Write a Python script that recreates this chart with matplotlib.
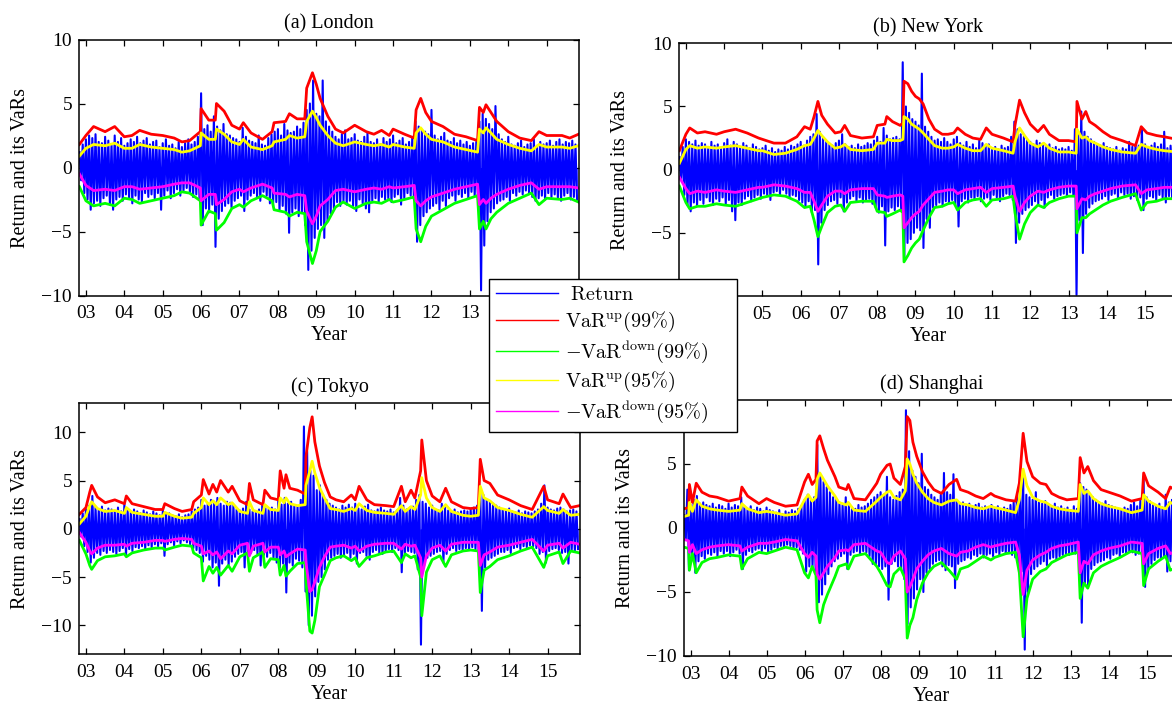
import numpy as np
import matplotlib
matplotlib.use("Agg")
import matplotlib.pyplot as plt
from matplotlib.lines import Line2D
from matplotlib.patches import Rectangle

BLUE, RED, GREEN, YELLOW, MAGENTA = "#0000FF", "#FF0000", "#00FF00", "#FFFF00", "#FF00FF"
plt.rcParams.update({"font.family": "Liberation Serif", "mathtext.fontset": "cm",
                     "font.size": 14, "axes.linewidth": 1.1, "path.simplify": False})

# monthly return extremes, Nov 2002 .. Oct 2015 (one row = Nov..Oct)
a_ret_hi = [1.2, 1.8, 2.2, 2.5, 2.3, 2.6, 2.0, 1.9, 2.4, 2.1, 1.8, 2.5,
            2.0, 2.3, 1.7, 1.9, 2.2, 2.0, 2.4, 1.9, 2.1, 2.3, 1.8, 2.0,
            2.1, 1.6, 1.9, 2.2, 1.7, 1.8, 1.5, 2.0, 1.6, 1.9, 2.2, 1.8,
            2.0, 2.4, 5.8, 3.0, 3.3, 2.8, 4.0, 3.2, 2.9, 3.4, 2.6, 2.5,
            2.3, 2.2, 2.0, 3.1, 2.4, 2.1, 2.0, 1.9, 2.5, 1.8, 1.7, 2.3,
            2.6, 2.8, 3.0, 2.5, 3.4, 2.9, 2.7, 2.8, 3.2, 3.0, 3.5, 4.5,
            5.0, 6.8, 4.2, 4.0, 6.8, 3.6, 3.2, 2.8, 2.4, 2.2, 2.6, 2.9,
            2.2, 2.3, 2.6, 2.1, 2.0, 2.4, 2.7, 2.0, 1.9, 2.2, 1.8, 2.3,
            2.0, 2.2, 2.5, 1.9, 2.1, 2.3, 1.8, 2.0, 2.4, 3.6, 3.2, 2.9,
            2.8, 2.6, 4.5, 2.5, 2.2, 2.4, 2.7, 2.1, 2.0, 2.3, 1.9, 2.1,
            1.8, 2.0, 1.7, 1.9, 2.0, 3.6, 4.2, 3.8, 3.4, 3.0, 4.8, 2.6,
            2.2, 2.0, 2.4, 1.8, 1.7, 1.9, 2.1, 1.6, 1.8, 1.9, 2.2, 1.7,
            2.0, 1.8, 1.9, 2.1, 1.7, 2.0, 2.2, 1.8, 2.0, 1.9, 2.1, 1.8]
a_ret_lo = [-1.0, -2.0, -2.5, -3.3, -2.8, -2.6, -3.0, -2.4, -2.2, -2.9, -3.3, -2.5,
            -2.3, -2.6, -2.1, -2.4, -2.8, -2.2, -2.5, -2.7, -2.0, -2.3, -2.1, -2.4,
            -2.0, -3.3, -2.2, -1.8, -2.4, -2.0, -1.7, -2.2, -1.8, -1.6, -2.0, -2.3,
            -2.1, -2.5, -4.5, -3.2, -3.5, -2.9, -6.2, -4.0, -3.4, -3.0, -2.8, -3.1,
            -2.6, -2.4, -2.2, -3.4, -2.5, -2.2, -2.0, -2.3, -2.6, -1.9, -2.2, -2.8,
            -3.0, -2.7, -3.4, -3.0, -3.6, -5.1, -3.5, -3.2, -3.8, -3.5, -4.5, -8.0,
            -6.5, -5.5, -4.8, -4.5, -5.5, -4.2, -3.6, -3.2, -2.7, -3.0, -2.6, -2.9,
            -2.6, -3.0, -3.4, -2.5, -2.8, -3.2, -3.5, -2.6, -2.4, -2.7, -2.3, -2.5,
            -2.4, -2.7, -2.3, -2.1, -2.9, -2.4, -2.0, -2.2, -2.5, -5.8, -4.5, -3.8,
            -3.5, -3.2, -3.0, -2.8, -3.3, -2.6, -3.0, -2.4, -2.2, -2.6, -2.1, -2.3,
            -2.0, -2.4, -1.9, -2.2, -2.5, -9.6, -6.1, -4.2, -3.5, -3.2, -2.8, -2.6,
            -2.5, -2.3, -2.6, -2.0, -2.2, -1.9, -2.1, -1.8, -2.0, -2.3, -2.6, -2.4,
            -2.2, -2.5, -2.0, -2.3, -2.1, -2.4, -2.6, -2.2, -2.0, -2.5, -2.3, -2.6]

b_ret_hi = [1.0, 1.8, 2.4, 2.2, 2.0, 2.3, 1.9, 2.1, 2.0, 1.8, 2.2, 1.9,
            2.0, 1.7, 2.1, 2.4, 1.9, 2.2, 2.0, 1.8, 2.1, 1.9, 1.7, 2.0,
            1.8, 1.6, 1.7, 1.9, 1.5, 1.7, 1.4, 1.6, 1.5, 1.8, 1.6, 1.9,
            1.8, 2.0, 2.2, 1.9, 2.3, 2.6, 2.8, 4.4, 3.0, 2.5, 2.2, 2.0,
            1.9, 2.1, 2.3, 2.8, 2.0, 1.8, 1.9, 1.7, 2.0, 1.8, 1.9, 2.1,
            2.0, 2.3, 2.6, 2.2, 3.3, 2.7, 2.4, 2.5, 2.6, 2.4, 8.5, 5.0,
            4.5, 4.0, 3.8, 3.5, 7.6, 3.4, 3.0, 2.6, 2.3, 2.4, 2.2, 2.5,
            2.2, 2.0, 2.4, 2.6, 2.1, 1.9, 2.2, 1.8, 2.0, 1.7, 2.3, 2.1,
            1.9, 2.0, 1.7, 1.8, 1.6, 1.9, 1.7, 1.8, 2.6, 3.8, 3.2, 2.8,
            2.6, 2.4, 2.2, 2.0, 2.3, 2.1, 1.9, 1.8, 2.0, 1.7, 1.8, 1.6,
            1.7, 1.6, 1.8, 1.5, 3.2, 2.8, 4.6, 3.0, 2.6, 2.4, 2.2, 2.0,
            1.9, 2.1, 1.8, 1.7, 1.6, 1.8, 1.5, 1.7, 1.6, 2.2, 1.8, 2.0,
            1.9, 3.3, 2.0, 1.8, 1.9, 2.1, 1.8, 2.0, 3.0, 1.7, 1.9, 1.8]
b_ret_lo = [-0.8, -2.0, -2.8, -3.3, -2.6, -2.9, -2.4, -2.7, -2.2, -2.5, -2.8, -2.3,
            -2.5, -2.2, -2.7, -2.4, -3.3, -4.0, -2.6, -2.8, -2.3, -2.1, -2.5, -2.2,
            -2.0, -2.3, -1.9, -2.1, -2.4, -1.8, -1.7, -2.0, -1.6, -1.9, -2.2, -2.0,
            -2.1, -2.4, -2.6, -2.9, -2.5, -3.4, -3.2, -7.5, -4.2, -3.2, -2.8, -2.5,
            -2.4, -2.7, -2.2, -3.3, -2.6, -2.3, -2.1, -2.5, -2.2, -2.6, -2.4, -2.3,
            -2.7, -3.0, -3.4, -2.9, -6.0, -3.3, -3.0, -3.2, -2.9, -3.1, -7.0, -5.8,
            -5.5, -5.0, -4.6, -4.8, -6.2, -3.9, -4.6, -3.0, -2.8, -2.6, -2.9, -2.5,
            -2.6, -2.4, -2.8, -4.5, -2.5, -2.3, -2.6, -2.2, -2.4, -2.1, -2.5, -2.3,
            -2.2, -2.4, -2.0, -2.2, -2.5, -2.1, -1.9, -2.0, -2.4, -5.8, -4.2, -3.5,
            -3.2, -3.0, -2.8, -2.5, -2.7, -2.4, -3.0, -2.2, -2.0, -2.3, -2.1, -2.0,
            -1.9, -2.1, -1.8, -2.0, -9.9, -4.0, -6.6, -3.5, -3.0, -2.7, -2.5, -2.4,
            -2.3, -2.1, -2.4, -2.0, -1.9, -2.2, -1.8, -2.0, -1.9, -2.3, -2.1, -2.4,
            -2.2, -3.2, -2.3, -2.1, -2.2, -2.4, -2.0, -2.2, -2.6, -2.1, -2.3, -2.0]

c_ret_hi = [1.0, 1.6, 2.0, 2.4, 3.4, 2.2, 2.0, 2.3, 1.9, 2.1, 2.0, 1.8,
            2.2, 1.8, 2.6, 1.9, 1.7, 2.0, 1.8, 1.6, 1.9, 1.7, 1.5, 1.8,
            1.6, 1.4, 1.9, 1.5, 1.6, 1.4, 1.3, 1.5, 1.2, 1.4, 1.5, 1.8,
            2.0, 2.2, 3.0, 2.4, 2.6, 3.0, 2.8, 3.2, 2.6, 2.4, 2.8, 2.7,
            2.5, 2.0, 1.9, 2.1, 2.8, 2.0, 1.8, 1.7, 2.0, 2.6, 2.1, 2.0,
            2.2, 2.0, 3.0, 2.5, 3.2, 2.6, 2.8, 2.4, 2.3, 3.0, 10.6, 8.0,
            6.0, 5.5, 4.0, 4.5, 3.5, 3.0, 2.6, 2.4, 2.2, 2.0, 2.4, 2.2,
            2.5, 2.2, 2.6, 2.1, 2.0, 2.3, 2.5, 1.9, 1.8, 2.0, 2.2, 1.9,
            1.8, 2.0, 1.7, 1.9, 3.2, 2.4, 2.0, 2.2, 2.3, 3.0, 3.5, 2.8,
            2.6, 2.2, 2.4, 2.0, 1.9, 2.6, 2.2, 1.9, 1.8, 2.0, 1.7, 1.8,
            1.9, 1.8, 2.0, 2.2, 2.4, 4.0, 3.5, 3.0, 2.8, 2.6, 2.4, 2.2,
            2.0, 1.9, 2.1, 1.8, 1.7, 1.9, 1.6, 1.8, 1.7, 1.6, 1.8, 2.0,
            2.6, 4.5, 2.2, 2.0, 1.9, 2.1, 2.2, 2.0, 1.8, 1.9, 2.0, 1.8]
c_ret_lo = [-0.8, -1.8, -2.4, -3.5, -3.0, -2.5, -2.7, -2.3, -2.5, -2.2, -2.4, -2.6,
            -2.3, -2.0, -2.8, -2.1, -2.3, -1.9, -2.0, -1.8, -2.1, -1.7, -1.9, -1.6,
            -1.8, -1.5, -2.8, -1.6, -1.4, -1.7, -1.3, -1.5, -1.2, -1.4, -1.6, -2.0,
            -2.2, -2.5, -3.4, -2.8, -3.2, -4.0, -3.5, -5.9, -3.6, -3.2, -3.8, -3.4,
            -2.9, -2.6, -2.4, -4.0, -2.8, -2.5, -2.2, -2.6, -3.8, -2.7, -2.9, -2.5,
            -3.0, -3.5, -4.0, -3.6, -6.6, -3.5, -3.8, -3.1, -3.3, -4.0, -6.5, -10.0,
            -9.0, -7.0, -5.5, -5.0, -4.2, -3.2, -3.0, -2.8, -2.6, -3.0, -2.7, -2.5,
            -3.0, -2.6, -3.6, -2.5, -2.4, -2.8, -3.2, -2.4, -2.2, -2.5, -2.6, -2.3,
            -2.1, -2.4, -2.0, -2.2, -4.5, -2.6, -2.3, -2.4, -2.5, -4.2, -12.0, -3.8,
            -3.0, -2.8, -2.6, -2.4, -2.3, -3.5, -2.6, -2.2, -2.0, -2.3, -2.1, -2.2,
            -2.0, -2.2, -1.9, -2.1, -2.5, -8.5, -4.0, -3.2, -3.0, -2.8, -2.6, -2.4,
            -2.4, -2.2, -2.5, -2.0, -1.9, -2.1, -1.8, -1.9, -1.7, -1.8, -2.0, -2.6,
            -2.4, -3.5, -2.3, -2.1, -2.0, -2.2, -2.5, -2.4, -3.6, -2.2, -2.3, -2.1]

d_ret_hi = [1.0, 3.0, 1.8, 2.2, 2.5, 1.9, 2.0, 1.8, 1.7, 1.9, 1.6, 1.8,
            1.7, 1.5, 1.9, 1.6, 1.8, 1.7, 2.4, 1.6, 1.5, 1.7, 1.4, 1.6,
            1.5, 1.3, 1.6, 1.4, 1.3, 1.2, 1.4, 1.1, 1.3, 1.2, 1.4, 1.3,
            1.5, 1.7, 2.2, 2.6, 2.2, 2.4, 6.5, 4.0, 3.6, 3.2, 2.8, 2.4,
            2.2, 2.0, 1.8, 2.4, 1.7, 1.6, 1.5, 1.8, 1.6, 1.7, 1.9, 2.2,
            2.4, 2.6, 2.8, 2.6, 4.0, 2.4, 2.2, 2.5, 2.8, 3.0, 9.2, 6.0,
            4.5, 4.0, 3.5, 5.8, 3.2, 3.0, 2.6, 2.4, 2.2, 2.6, 4.3, 2.8,
            2.6, 4.2, 2.1, 1.9, 2.0, 1.8, 1.9, 1.7, 1.8, 1.9, 1.6, 1.7,
            1.6, 1.8, 1.5, 1.7, 1.4, 1.6, 1.5, 1.8, 2.0, 2.4, 3.2, 4.2,
            2.6, 2.4, 2.2, 2.8, 2.0, 1.9, 2.1, 1.8, 1.7, 1.9, 1.6, 1.7,
            1.5, 1.6, 1.4, 1.7, 1.5, 3.5, 3.2, 3.0, 2.6, 2.4, 2.2, 2.0,
            1.9, 2.1, 1.8, 1.7, 1.6, 1.5, 1.4, 1.6, 1.5, 1.8, 2.0, 1.7,
            2.2, 4.0, 2.4, 2.1, 1.8, 1.7, 1.9, 1.6, 2.6, 2.0, 2.2, 2.0]
d_ret_lo = [-0.9, -3.3, -2.0, -3.5, -2.6, -2.2, -2.4, -2.0, -2.1, -1.9, -2.2, -1.8,
            -2.0, -1.8, -2.2, -1.9, -1.7, -2.0, -3.2, -2.1, -1.8, -1.9, -1.7, -1.6,
            -1.8, -1.6, -1.9, -1.7, -1.5, -1.6, -1.4, -1.5, -1.3, -1.4, -1.6, -1.5,
            -1.7, -2.0, -3.4, -3.0, -3.0, -3.5, -5.8, -5.2, -4.4, -3.6, -3.0, -2.6,
            -2.4, -2.2, -2.0, -3.2, -2.1, -1.9, -1.8, -2.0, -1.8, -1.9, -2.2, -2.8,
            -2.9, -3.0, -3.2, -3.0, -5.6, -2.8, -2.6, -3.0, -3.2, -4.0, -7.5, -6.2,
            -5.5, -4.8, -4.0, -5.0, -3.5, -3.2, -2.8, -2.6, -2.5, -3.0, -3.3, -2.9,
            -3.0, -4.7, -2.8, -2.6, -2.5, -2.3, -2.4, -2.1, -2.2, -2.0, -2.3, -2.1,
            -2.0, -2.2, -1.9, -2.1, -1.8, -2.0, -1.9, -2.1, -2.3, -2.8, -3.4, -9.5,
            -5.0, -3.6, -3.2, -3.0, -2.8, -2.6, -2.9, -2.4, -2.3, -2.5, -2.2, -2.1,
            -2.0, -2.1, -1.9, -2.0, -1.8, -7.4, -4.3, -4.5, -3.2, -2.9, -2.7, -2.6,
            -2.5, -2.3, -2.4, -2.1, -2.0, -2.2, -1.9, -2.0, -1.8, -1.9, -2.1, -2.0,
            -2.2, -4.6, -3.2, -2.8, -2.5, -2.3, -2.4, -2.2, -3.4, -2.6, -2.4, -2.3]

# VaR curves read at breakpoints (decimal year)
a_t = [2002.83, 2003.0, 2003.2, 2003.5, 2003.75, 2004.0, 2004.2, 2004.4, 2004.7, 2005.0,
       2005.3, 2005.5, 2005.7, 2005.98, 2006.0, 2006.2, 2006.37, 2006.4, 2006.6, 2006.8,
       2007.0, 2007.1, 2007.3, 2007.6, 2007.85, 2007.9, 2008.2, 2008.3, 2008.5, 2008.7,
       2008.75, 2008.9, 2009.0, 2009.1, 2009.3, 2009.5, 2009.7, 2010.0, 2010.3, 2010.5,
       2010.7, 2010.9, 2011.0, 2011.3, 2011.55, 2011.6, 2011.72, 2011.85, 2012.0, 2012.3,
       2012.6, 2012.9, 2013.2, 2013.25, 2013.35, 2013.42, 2013.55, 2013.7, 2014.0, 2014.3,
       2014.6, 2014.8, 2015.0, 2015.4, 2015.6, 2015.83]
a_up99 = [1.8, 2.5, 3.2, 2.8, 3.2, 2.4, 2.5, 2.9, 2.6, 2.5, 2.3, 2.0, 2.1, 2.8, 4.6, 3.7, 3.7, 5.0, 4.4, 3.3,
          3.0, 3.5, 2.7, 2.2, 2.8, 3.5, 3.6, 4.2, 3.8, 3.8, 6.2, 7.4, 6.5, 5.4, 4.0, 3.0, 2.7, 3.3, 2.8, 2.6,
          2.9, 2.5, 3.0, 2.6, 2.3, 4.5, 5.4, 4.3, 3.6, 3.2, 2.6, 2.4, 2.1, 4.7, 4.3, 4.9, 4.3, 3.6, 2.8, 2.3,
          2.1, 2.8, 2.5, 2.5, 2.3, 2.6]
a_up95 = [0.9, 1.5, 1.8, 1.7, 1.9, 1.5, 1.5, 1.8, 1.6, 1.5, 1.4, 1.2, 1.3, 1.7, 2.7, 2.2, 2.2, 3.0, 2.6, 2.0,
          1.8, 2.2, 1.6, 1.4, 1.7, 2.0, 2.2, 2.5, 2.3, 2.4, 3.6, 4.4, 3.9, 3.3, 2.5, 1.9, 1.7, 2.0, 1.8, 1.7,
          1.8, 1.6, 1.8, 1.6, 1.5, 2.7, 3.1, 2.6, 2.2, 2.0, 1.6, 1.4, 1.2, 3.0, 2.7, 3.1, 2.7, 2.2, 1.8, 1.5,
          1.3, 1.8, 1.6, 1.6, 1.5, 1.7]
a_dn99 = [-1.5, -2.6, -3.0, -2.8, -3.0, -2.4, -2.5, -2.8, -2.6, -2.4, -2.2, -1.9, -2.0, -2.6, -4.5, -3.4, -3.6,
          -4.9, -4.3, -3.2, -2.9, -3.1, -2.6, -2.2, -2.6, -3.3, -3.5, -3.8, -3.5, -3.6, -5.8, -7.5, -6.5, -5.0,
          -4.2, -3.1, -2.7, -3.2, -2.8, -2.7, -2.8, -2.5, -2.7, -2.5, -2.3, -4.8, -5.8, -4.6, -3.8, -3.3, -2.8,
          -2.5, -2.2, -4.8, -4.2, -4.8, -4.0, -3.5, -2.8, -2.4, -2.0, -2.9, -2.4, -2.5, -2.4, -2.7]
a_dn95 = [-0.5, -1.4, -1.8, -1.7, -1.8, -1.5, -1.5, -1.7, -1.6, -1.5, -1.3, -1.2, -1.2, -1.6, -2.6, -2.1, -2.1,
          -2.9, -2.5, -1.9, -1.7, -1.9, -1.6, -1.3, -1.6, -2.0, -2.1, -2.3, -2.1, -2.2, -3.4, -4.4, -3.8, -3.0,
          -2.5, -1.8, -1.7, -1.9, -1.7, -1.6, -1.7, -1.5, -1.6, -1.5, -1.4, -2.6, -3.0, -2.6, -2.3, -2.0, -1.7,
          -1.5, -1.3, -2.9, -2.5, -2.8, -2.4, -2.1, -1.7, -1.4, -1.2, -1.7, -1.5, -1.5, -1.5, -1.6]

b_t = [2002.83, 2003.0, 2003.1, 2003.3, 2003.5, 2003.8, 2004.0, 2004.3, 2004.6, 2004.9,
       2005.0, 2005.3, 2005.6, 2005.9, 2006.1, 2006.25, 2006.35, 2006.45, 2006.55, 2006.7,
       2006.9, 2007.05, 2007.15, 2007.3, 2007.6, 2007.9, 2008.0, 2008.2, 2008.25, 2008.4,
       2008.6, 2008.67, 2008.7, 2008.8, 2008.9, 2009.0, 2009.1, 2009.2, 2009.35, 2009.5,
       2009.7, 2009.85, 2010.0, 2010.1, 2010.3, 2010.5, 2010.7, 2010.85, 2011.0, 2011.3,
       2011.55, 2011.6, 2011.72, 2011.85, 2012.0, 2012.2, 2012.35, 2012.5, 2012.75, 2013.0,
       2013.2, 2013.22, 2013.35, 2013.45, 2013.55, 2013.7, 2013.9, 2014.1, 2014.4, 2014.75,
       2014.9, 2015.05, 2015.3, 2015.5, 2015.83]
b_up99 = [1.5, 2.8, 3.3, 2.9, 3.0, 2.8, 3.0, 3.2, 2.9, 2.5, 2.4, 2.1, 2.1, 2.6, 3.4, 3.2, 4.2, 5.4, 4.3, 3.6,
          2.9, 3.0, 3.5, 2.7, 2.5, 2.6, 3.5, 3.6, 4.2, 3.8, 3.5, 3.7, 7.0, 6.8, 6.2, 5.8, 5.6, 5.2, 4.0, 3.2,
          2.8, 2.8, 2.9, 3.3, 2.8, 2.5, 2.4, 3.3, 2.8, 2.5, 2.2, 3.5, 5.5, 4.5, 3.6, 3.0, 3.5, 2.8, 2.3, 2.3,
          2.2, 5.4, 4.0, 4.6, 3.8, 3.5, 3.0, 2.6, 2.3, 1.9, 3.4, 2.9, 2.7, 2.6, 2.4]
b_up95 = [0.5, 1.6, 1.9, 1.7, 1.8, 1.7, 1.8, 1.9, 1.7, 1.5, 1.5, 1.2, 1.3, 1.6, 1.9, 2.0, 2.5, 3.1, 2.7, 2.2,
          1.7, 1.8, 2.0, 1.6, 1.5, 1.6, 2.1, 2.1, 2.4, 2.3, 2.3, 2.4, 4.2, 4.0, 3.6, 3.4, 3.2, 2.9, 2.4, 1.9,
          1.7, 1.7, 1.8, 2.0, 1.7, 1.5, 1.5, 2.0, 1.7, 1.5, 1.3, 2.2, 3.3, 2.7, 2.1, 1.8, 2.1, 1.7, 1.4, 1.4,
          1.3, 3.2, 2.5, 2.6, 2.3, 2.1, 1.8, 1.6, 1.4, 1.3, 2.0, 1.8, 1.6, 1.5, 1.4]
b_dn99 = [-1.3, -2.6, -3.1, -2.9, -2.9, -2.7, -2.8, -2.9, -2.6, -2.3, -2.2, -2.0, -2.1, -2.5, -3.0, -2.9, -4.0,
          -5.3, -4.5, -3.4, -2.9, -2.8, -3.3, -2.6, -2.5, -2.5, -3.3, -3.4, -3.7, -3.5, -3.2, -3.4, -7.3, -6.8,
          -6.2, -5.8, -5.5, -4.8, -3.8, -3.0, -2.9, -2.7, -2.6, -3.2, -2.6, -2.4, -2.3, -2.9, -2.4, -2.3, -2.1,
          -3.4, -5.5, -4.3, -3.4, -2.8, -3.0, -2.6, -2.3, -2.1, -2.1, -5.0, -3.8, -3.8, -3.5, -3.2, -2.8, -2.5,
          -2.2, -1.9, -3.2, -2.6, -2.5, -2.3, -2.3]
b_dn95 = [-0.6, -1.5, -1.9, -1.7, -1.8, -1.6, -1.7, -1.8, -1.6, -1.4, -1.4, -1.2, -1.3, -1.5, -1.8, -1.8, -2.5,
          -3.3, -2.8, -2.1, -1.7, -1.7, -1.9, -1.6, -1.5, -1.5, -2.0, -2.1, -2.2, -2.1, -2.0, -2.1, -4.6, -4.2,
          -3.8, -3.5, -3.3, -2.8, -2.3, -1.8, -1.7, -1.6, -1.6, -1.9, -1.6, -1.5, -1.4, -1.8, -1.5, -1.4, -1.3,
          -2.1, -3.3, -2.6, -2.1, -1.7, -1.8, -1.6, -1.4, -1.3, -1.3, -3.1, -2.3, -2.4, -2.1, -1.9, -1.7, -1.5,
          -1.3, -1.2, -1.9, -1.6, -1.5, -1.4, -1.4]

c_t = [2002.83, 2003.0, 2003.1, 2003.15, 2003.3, 2003.5, 2003.75, 2004.0, 2004.05, 2004.2,
       2004.5, 2004.8, 2005.0, 2005.05, 2005.3, 2005.5, 2005.75, 2005.8, 2006.0, 2006.05,
       2006.2, 2006.3, 2006.4, 2006.5, 2006.7, 2006.8, 2007.0, 2007.2, 2007.25, 2007.35,
       2007.6, 2007.65, 2007.8, 2008.0, 2008.05, 2008.15, 2008.2, 2008.3, 2008.5, 2008.7,
       2008.72, 2008.82, 2008.88, 2008.95, 2009.07, 2009.2, 2009.35, 2009.5, 2009.7, 2009.9,
       2010.0, 2010.1, 2010.3, 2010.5, 2010.8, 2011.0, 2011.2, 2011.3, 2011.45, 2011.55,
       2011.7, 2011.73, 2011.85, 2012.0, 2012.2, 2012.35, 2012.5, 2012.8, 2013.0, 2013.2,
       2013.25, 2013.35, 2013.5, 2013.7, 2014.0, 2014.3, 2014.6, 2014.9, 2015.0, 2015.3,
       2015.4, 2015.6, 2015.83]
c_up99 = [1.5, 2.2, 3.8, 4.5, 3.3, 2.7, 3.0, 2.6, 3.4, 2.6, 2.3, 2.0, 2.0, 2.6, 2.1, 1.8, 2.0, 2.8, 3.5, 5.1,
          3.6, 4.6, 3.8, 5.0, 3.8, 4.4, 2.9, 2.5, 4.7, 3.0, 2.5, 4.0, 3.2, 3.0, 6.0, 4.2, 5.6, 4.2, 4.0, 3.6,
          7.5, 10.5, 11.6, 9.0, 6.5, 4.8, 3.3, 3.0, 2.8, 3.5, 3.0, 4.4, 3.0, 2.5, 2.4, 2.3, 4.4, 2.8, 4.0, 3.2,
          6.0, 9.2, 5.0, 3.4, 2.8, 4.2, 2.8, 2.2, 2.1, 2.2, 7.2, 5.0, 4.7, 3.5, 3.0, 2.4, 2.0, 4.4, 3.0, 2.6,
          3.6, 2.2, 2.4]
c_up95 = [0.5, 1.3, 2.4, 2.8, 2.1, 1.8, 1.9, 1.6, 2.2, 1.7, 1.5, 1.3, 1.3, 1.7, 1.3, 1.1, 1.2, 1.6, 2.2, 3.2,
          2.5, 2.9, 2.5, 3.2, 2.5, 2.7, 1.8, 1.6, 2.8, 1.9, 1.6, 2.5, 2.0, 1.9, 3.2, 2.7, 3.2, 2.6, 2.4, 2.5,
          4.5, 6.0, 7.0, 5.8, 4.3, 3.2, 2.1, 2.0, 1.8, 2.1, 1.9, 2.6, 1.9, 1.7, 1.6, 1.5, 2.4, 1.8, 2.3, 2.0,
          3.5, 5.3, 3.2, 2.2, 1.8, 2.5, 1.8, 1.4, 1.3, 1.4, 4.4, 3.2, 2.9, 2.2, 1.9, 1.5, 1.2, 2.3, 1.9, 1.6,
          2.0, 1.4, 1.5]
c_dn99 = [-1.2, -2.6, -3.8, -4.2, -3.3, -2.9, -2.8, -2.6, -2.9, -2.5, -2.2, -2.0, -2.0, -2.2, -1.9, -1.7, -1.8,
          -2.5, -3.0, -5.4, -3.9, -4.6, -4.0, -4.8, -3.8, -4.4, -2.9, -2.5, -4.4, -3.0, -2.4, -4.0, -3.1, -3.2,
          -4.8, -3.8, -4.9, -4.4, -3.6, -3.5, -5.5, -10.6, -10.8, -9.5, -6.0, -4.8, -3.3, -3.0, -2.8, -3.3,
          -3.0, -3.9, -3.0, -2.8, -2.4, -2.3, -3.5, -2.6, -3.0, -2.8, -5.0, -9.0, -4.5, -3.2, -2.8, -3.9, -2.7,
          -2.3, -2.2, -2.3, -6.6, -4.3, -3.9, -3.2, -2.8, -2.3, -1.9, -4.0, -2.8, -2.4, -3.6, -2.3, -2.5]
c_dn95 = [-0.4, -1.4, -2.3, -2.6, -2.0, -1.7, -1.7, -1.6, -1.8, -1.5, -1.4, -1.2, -1.2, -1.3, -1.1, -1.0, -1.1,
          -1.5, -1.8, -2.6, -2.3, -2.7, -2.4, -3.1, -2.3, -2.6, -1.7, -1.5, -2.8, -1.8, -1.5, -2.4, -1.9, -1.9,
          -2.7, -2.3, -2.9, -2.6, -2.1, -2.2, -3.5, -6.5, -6.3, -5.5, -4.0, -2.9, -1.9, -1.8, -1.7, -2.0, -1.8,
          -2.3, -1.8, -1.6, -1.5, -1.5, -2.1, -1.6, -1.8, -1.7, -3.0, -5.0, -2.8, -2.0, -1.7, -2.3, -1.6, -1.4,
          -1.4, -1.4, -3.8, -2.7, -2.4, -1.9, -1.7, -1.4, -1.1, -2.3, -1.7, -1.5, -2.0, -1.4, -1.6]

d_t = [2002.83, 2002.95, 2002.97, 2003.05, 2003.15, 2003.3, 2003.5, 2003.7, 2004.0, 2004.3,
       2004.35, 2004.5, 2004.8, 2005.0, 2005.2, 2005.5, 2005.8, 2006.0, 2006.1, 2006.2,
       2006.3, 2006.33, 2006.4, 2006.5, 2006.6, 2006.8, 2006.9, 2007.1, 2007.15, 2007.3,
       2007.6, 2007.9, 2008.0, 2008.17, 2008.25, 2008.35, 2008.52, 2008.65, 2008.7, 2008.77,
       2008.85, 2008.95, 2009.1, 2009.25, 2009.4, 2009.6, 2009.8, 2010.0, 2010.1, 2010.3,
       2010.5, 2010.7, 2010.9, 2011.0, 2011.3, 2011.55, 2011.65, 2011.75, 2011.85, 2012.0,
       2012.2, 2012.35, 2012.5, 2012.7, 2012.9, 2013.2, 2013.25, 2013.35, 2013.45, 2013.6,
       2013.8, 2014.0, 2014.3, 2014.6, 2014.88, 2014.92, 2015.05, 2015.3, 2015.5, 2015.62,
       2015.83]
d_up99 = [1.5, 1.6, 3.4, 2.0, 3.5, 2.8, 2.5, 2.4, 2.1, 2.3, 3.2, 2.5, 1.9, 2.3, 2.0, 1.7, 1.8, 3.6, 4.2, 3.4,
          3.8, 6.8, 7.2, 6.2, 5.3, 4.0, 3.2, 3.0, 3.4, 2.3, 2.2, 3.5, 4.2, 4.9, 5.0, 3.9, 3.4, 4.8, 8.7, 8.4,
          6.7, 5.6, 4.4, 3.6, 3.0, 2.7, 3.4, 3.8, 3.0, 2.8, 2.5, 2.3, 2.7, 2.5, 2.2, 2.1, 3.5, 7.4, 5.2, 4.0,
          3.5, 3.4, 2.7, 2.4, 2.2, 2.3, 5.5, 4.3, 4.8, 3.7, 3.0, 2.8, 2.5, 2.1, 2.3, 4.3, 3.3, 2.8, 2.3, 3.2,
          2.8]
d_up95 = [0.9, 1.0, 2.0, 1.3, 2.2, 1.7, 1.5, 1.4, 1.3, 1.4, 1.9, 1.5, 1.2, 1.3, 1.2, 1.0, 1.1, 2.2, 2.6, 2.1,
          2.4, 3.8, 4.3, 3.8, 3.3, 2.5, 2.0, 1.8, 2.0, 1.4, 1.3, 2.1, 2.4, 2.8, 2.9, 2.4, 2.2, 2.9, 5.4, 5.0,
          4.2, 3.5, 2.8, 2.3, 2.0, 1.8, 2.1, 2.2, 1.9, 1.8, 1.6, 1.5, 1.7, 1.6, 1.4, 1.2, 2.2, 4.6, 3.3, 2.4,
          2.1, 2.0, 1.7, 1.5, 1.4, 1.3, 3.4, 2.7, 2.9, 2.3, 1.9, 1.7, 1.5, 1.2, 1.4, 2.6, 2.1, 1.7, 1.5, 2.0,
          1.7]
d_dn99 = [-1.5, -1.6, -3.3, -2.0, -3.5, -2.7, -2.4, -2.3, -2.1, -2.2, -3.2, -2.4, -1.9, -2.0, -1.8, -1.5, -1.7,
          -3.5, -3.9, -3.0, -3.7, -6.4, -7.4, -6.0, -5.2, -3.8, -3.0, -2.8, -3.2, -2.2, -2.0, -3.0, -3.5, -4.5,
          -4.6, -3.6, -3.1, -4.0, -8.6, -7.6, -7.0, -5.6, -4.3, -3.5, -3.0, -2.7, -3.3, -4.0, -3.2, -3.0, -2.6,
          -2.2, -2.5, -2.3, -2.0, -1.9, -3.5, -8.5, -5.5, -4.0, -3.4, -3.2, -2.7, -2.4, -2.1, -1.9, -5.5, -4.3,
          -4.7, -3.5, -3.0, -2.7, -2.3, -1.8, -2.0, -4.5, -3.2, -2.6, -2.2, -3.3, -3.0]
d_dn95 = [-0.9, -1.0, -1.9, -1.3, -2.0, -1.7, -1.5, -1.4, -1.3, -1.4, -1.8, -1.5, -1.2, -1.2, -1.1, -0.9, -1.0,
          -2.0, -2.3, -1.9, -2.2, -3.6, -4.0, -3.5, -3.0, -2.3, -1.8, -1.7, -1.8, -1.3, -1.2, -1.8, -1.9, -2.7,
          -2.8, -2.2, -1.8, -2.4, -5.0, -4.6, -4.0, -3.2, -2.6, -2.1, -1.8, -1.6, -2.0, -2.2, -1.9, -1.8, -1.5,
          -1.3, -1.5, -1.4, -1.2, -1.1, -2.1, -5.2, -3.3, -2.5, -2.1, -1.9, -1.6, -1.4, -1.3, -1.1, -3.5, -2.6,
          -2.8, -2.1, -1.8, -1.6, -1.4, -1.1, -1.2, -2.8, -2.0, -1.6, -1.4, -2.0, -1.8]

years = list(range(2003, 2016))
year_labels = ["%02d" % (y % 100) for y in years]
month0 = 2002 + 10 / 12
labels = [r"$\ \mathrm{Return}$", r"$\mathrm{VaR}^{\mathrm{up}}(99\%)$",
          r"$-\mathrm{VaR}^{\mathrm{down}}(99\%)$", r"$\mathrm{VaR}^{\mathrm{up}}(95\%)$",
          r"$-\mathrm{VaR}^{\mathrm{down}}(95\%)$"]

W, H = 1172, 708
fig = plt.figure(figsize=(W / 100, H / 100), dpi=100)

def px_axes(left, top, right, bottom):
    return fig.add_axes([left / W, 1 - bottom / H, (right - left) / W, (bottom - top) / H])

def panel(ax, title, t, up99, dn99, up95, dn95, hi, lo, ylim, hide10=False):
    m = month0 + np.arange(len(hi)) / 12
    tz = np.column_stack([m, m + 1 / 24]).ravel()
    rz = np.column_stack([hi, lo]).ravel()
    ax.fill_between(tz, 0, rz, color=BLUE, lw=0)
    ax.plot(tz, rz, color=BLUE, lw=1.5)
    ax.plot(t, up99, color=RED, lw=2.0)
    ax.plot(t, dn99, color=GREEN, lw=2.0)
    ax.plot(t, up95, color=YELLOW, lw=2.0)
    ax.plot(t, dn95, color=MAGENTA, lw=2.0)
    ax.set_xlim(2002.82, 2015.85)
    ax.set_ylim(-ylim, ylim)
    ax.set_yticks([-10, -5, 0, 5, 10])
    if hide10:  # covered by the legend box in the original
        ax.set_yticklabels(["\u221210", "\u22125", "0", "5", ""])
    ax.set_xticks(years)
    ax.set_xticklabels(year_labels)
    ax.tick_params(direction="in", top=True, right=True, length=4.5, width=0.9,
                   labelsize=14)
    ax.tick_params(axis="x", pad=7)
    ax.tick_params(axis="y", pad=5)
    ax.set_title(title, fontsize=14.5, pad=8)
    ax.set_xlabel("Year", fontsize=14.5, labelpad=3)
    ax.set_ylabel("Return and its VaRs", fontsize=14.5, labelpad=8)

ax_a = px_axes(79, 39.5, 579.3, 295.5)
panel(ax_a, "(a) London", a_t, a_up99, a_dn99, a_up95, a_dn95, a_ret_hi, a_ret_lo, 10)
ax_b = px_axes(679, 43.3, 1177.6, 296)
panel(ax_b, "(b) New York", b_t, b_up99, b_dn99, b_up95, b_dn95, b_ret_hi, b_ret_lo, 10)
ax_c = px_axes(79, 403.3, 580.3, 654.3)
panel(ax_c, "(c) Tokyo", c_t, c_up99, c_dn99, c_up95, c_dn95, c_ret_hi, c_ret_lo, 13)
ax_d = px_axes(683.7, 400, 1179, 656)
panel(ax_d, "(d) Shanghai", d_t, d_up99, d_dn99, d_up95, d_dn95, d_ret_hi, d_ret_lo, 10,
      hide10=True)

# legend box drawn as its own rectangle (wider than the entries, as in the original)
fig.add_artist(Rectangle((489 / W, 1 - 432 / H), 248 / W, 153 / H, transform=fig.transFigure,
                         facecolor="white", edgecolor="black", lw=1.0, zorder=4.9))
handles = [Line2D([], [], color=c, lw=1.0) for c in (BLUE, RED, GREEN, YELLOW, MAGENTA)]
leg = fig.legend(handles, labels, loc="upper left", bbox_to_anchor=(489 / W, 1 - 279 / H),
                 frameon=False, borderaxespad=0, handlelength=3.1, handletextpad=0.3,
                 labelspacing=0.25, borderpad=0.35, fontsize=14.5)
leg.set_zorder(5)

fig.savefig("out.png", dpi=100)
